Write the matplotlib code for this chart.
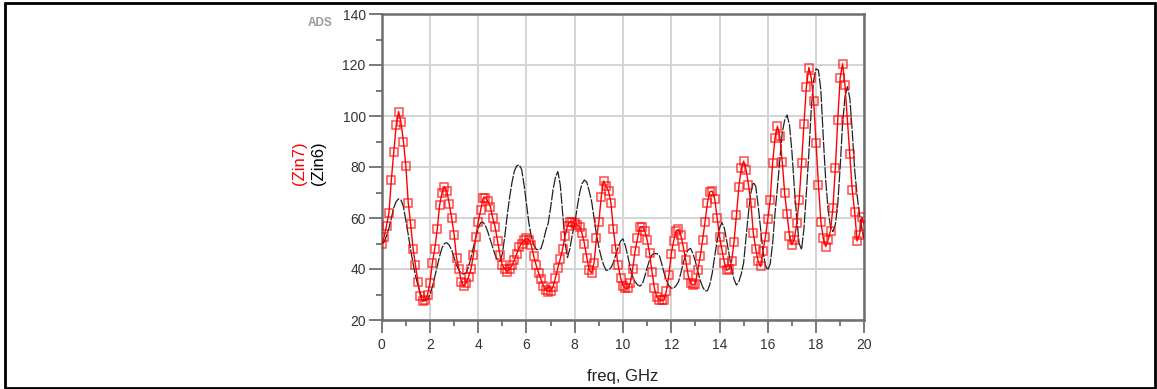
import numpy as np
import matplotlib
matplotlib.use('Agg')
import matplotlib.pyplot as plt
from matplotlib.patches import Rectangle

plt.rcParams['font.family'] = ['Liberation Sans', 'DejaVu Sans']

# frequency points, GHz (0.1 GHz step)
freq = np.round(np.arange(0, 201) * 0.1, 1)

# Zin7 (red, square markers)
zin7 = [
    50, 52.5, 57, 62, 75, 86, 96.5, 101.7, 97.5, 90,
    80.5, 66, 57.5, 48, 41.5, 35, 29.5, 27.3, 27.8, 30,
    34.5, 42.5, 48, 55.5, 65, 70, 72.3, 70.5, 65.5, 60,
    53.5, 44.5, 40, 35, 33.5, 34.5, 37, 40, 45.5, 52.5,
    58.5, 63, 67.7, 68, 66.5, 64.5, 60, 56.5, 51, 45.5,
    41.5, 40, 39, 40, 41.5, 43.5, 46, 48.5, 50, 51.2,
    52, 51.5, 49.4, 45, 41.5, 38.5, 36, 33.5, 31.7, 31.1,
    31.5, 33, 36.5, 40.5, 44, 48, 53, 57, 58.6, 58.3,
    57.9, 57.3, 56.6, 54, 50, 44.5, 39.5, 38.5, 42.5, 52,
    58.5, 68.4, 74.5, 72.5, 70.5, 66, 55.5, 48, 41.5, 36.5,
    33.5, 32.4, 32.4, 34.5, 40, 47, 52, 56.5, 56.6, 55,
    51.5, 46.1, 39, 32.5, 29, 28, 27.8, 27.8, 31.5, 37.5,
    46, 51, 55, 55.5, 53.2, 48.5, 43.5, 37.5, 34.5, 33.7,
    34.2, 39.6, 45, 51.5, 58.5, 66, 70.3, 70.5, 67.5, 60,
    52.7, 47.5, 42.5, 39.5, 40, 43, 50.5, 61, 72, 79.5,
    82.3, 79, 73, 66, 54, 48, 43, 41, 47, 52.5,
    59.5, 67, 81.5, 91.5, 96, 92, 82, 69.7, 61.5, 53,
    49.6, 51.5, 58, 67, 81.4, 97, 111.5, 119, 115, 106,
    89.5, 73, 58.6, 52, 48.8, 51.4, 55, 64, 79.5, 98.5,
    115, 120.5, 112, 98.4, 85, 71, 62.5, 51, 53.5, 60.5,
    57,
]

# Zin6 (black, dashed)
zin6 = [
    50, 50.5, 53, 56, 60, 64, 66.5, 67.5, 67, 64.5,
    59, 53.5, 47.5, 42.2, 37.5, 33.5, 30.5, 28, 27.5, 28,
    30, 33, 37, 41, 45, 48.3, 50, 50.3, 49.3, 47.5,
    44.5, 41.5, 39.5, 38.3, 38, 38.5, 41, 44.5, 48.5, 52.5,
    56, 58.2, 58.3, 57, 54.5, 51.5, 48.5, 45.5, 43.5, 43,
    46, 52.7, 61, 68, 74, 78.5, 80.5, 80.8, 79, 73,
    65.5, 58, 52.7, 49.5, 47.8, 47.5, 48, 51, 55, 58,
    64, 71, 76, 78.2, 73, 62, 50.5, 44.5, 48, 53.5,
    57.9, 64, 69.7, 73.5, 74.9, 74, 70.5, 66.5, 60, 53.5,
    48.5, 44.5, 41.5, 39.5, 39.5, 40.5, 42.5, 45.5, 48.5, 51,
    51.8, 49, 45, 40.5, 37, 35, 33.8, 33.3, 34, 37,
    40.5, 43.5, 45.5, 46.1, 46, 45.5, 42.2, 38.5, 35.5, 33.5,
    32.5, 32.4, 33.5, 35, 38.5, 42.5, 45.5, 47.5, 48.1, 46,
    43, 39, 35.5, 33, 31.4, 31.5, 34, 38.5, 45, 51,
    56, 58.2, 56, 51, 45.5, 40, 36, 33.7, 35, 38,
    42.5, 52.5, 62, 70, 74, 72.5, 65, 56, 47, 41.5,
    39.6, 42, 50, 62, 72, 83, 93.5, 98.4, 100.4, 96.5,
    86, 72, 60, 50, 47.6, 56, 70, 85, 102.5, 114,
    118.5, 118, 110.2, 91.5, 75, 63.1, 56.5, 54.7, 57.5, 65.5,
    80, 97, 107.5, 111.5, 107, 94, 79, 69, 61.5, 56,
    51.5,
]

fig = plt.figure(figsize=(11.57, 3.89), dpi=100)
ax = fig.add_axes([381.7/1157, 1-320/389, (864.3-381.7)/1157, (320-14)/389])

ax.plot(freq, zin6, color='#222222', lw=0.9, ls=(0, (9, 1.2)), zorder=3)
ax.plot(freq, zin7, color='red', lw=1.0, marker='s', ms=5.8, mfc='none',
        mec=(1, 0, 0, 0.7), mew=1.1, zorder=4)

ax.set_xlim(0, 20)
ax.set_ylim(20, 140)
ax.set_xticks(np.arange(0, 21, 2))
ax.set_xticks(np.arange(1, 20, 2), minor=True)
ax.set_yticks(np.arange(20, 141, 20))
ax.set_yticks(np.arange(30, 140, 20), minor=True)
ax.grid(True, which='major', color='#d4d4d4', lw=1.4)
ax.set_axisbelow(True)

for s in ax.spines.values():
    s.set_color('#6e6e6e')
    s.set_linewidth(1.8)
ax.tick_params(which='major', direction='out', length=9.5, width=1.3,
               color='#6e6e6e', labelsize=10, labelcolor='#333333', pad=2)
ax.tick_params(which='minor', direction='out', length=4.5, width=1.3,
               color='#6e6e6e')
ax.tick_params(axis='x', which='major', pad=3.5)

fig.text(320/1157, 1-23.5/389, 'ADS', color='#9a9a9a', fontsize=8.5,
         fontweight='bold', ha='center', va='center')
fig.text(300/1157, 1-163/389, '(Zin7)', color='red', fontsize=12,
         rotation=90, ha='center', va='center')
fig.text(318.5/1157, 1-163/389, '(Zin6)', color='black', fontsize=12,
         rotation=90, ha='center', va='center')
fig.text(623/1157, 1-381/389, 'freq, GHz', color='#222222', fontsize=12,
         ha='center', va='baseline')

# outer frame
fig.add_artist(Rectangle((5/1157, 1.5/389), 1150/1157, 385/389,
                         transform=fig.transFigure, fill=False,
                         ec='black', lw=2))

fig.savefig('out.png', dpi=100)
